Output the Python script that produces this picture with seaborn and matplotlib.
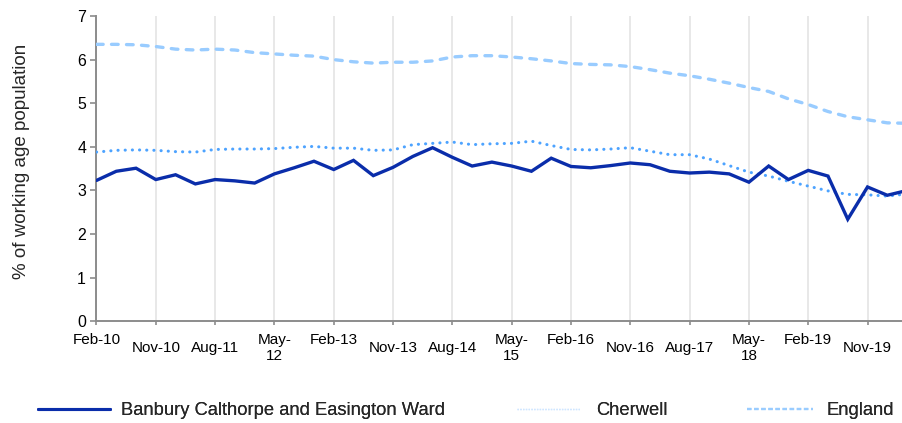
import numpy as np
import pandas as pd
import seaborn as sns
import matplotlib
matplotlib.use("Agg")
import matplotlib.pyplot as plt
import matplotlib.transforms as mtransforms
from matplotlib.lines import Line2D

# ---- data (quarterly, Feb-10 .. May-20) ----
years = list(range(2010, 2021))
months = ["Feb", "May", "Aug", "Nov"]
periods = [f"{m}-{str(y)[2:]}" for y in years for m in months][:42]

banbury = [3.23, 3.44, 3.51, 3.25, 3.36, 3.15, 3.25, 3.22, 3.17, 3.38,
           3.52, 3.67, 3.48, 3.69, 3.34, 3.53, 3.78, 3.98, 3.76, 3.56,
           3.65, 3.56, 3.44, 3.74, 3.55, 3.52, 3.57, 3.63, 3.59, 3.44,
           3.40, 3.42, 3.38, 3.19, 3.56, 3.25, 3.46, 3.33, 2.34, 3.08,
           2.89, 3.00]
cherwell = [3.88, 3.92, 3.93, 3.92, 3.89, 3.88, 3.94, 3.95, 3.95, 3.96,
            3.99, 4.01, 3.97, 3.97, 3.92, 3.93, 4.05, 4.08, 4.11, 4.05,
            4.07, 4.08, 4.13, 4.03, 3.94, 3.93, 3.95, 3.98, 3.90, 3.82,
            3.82, 3.72, 3.57, 3.42, 3.33, 3.21, 3.10, 2.99, 2.91, 2.90,
            2.87, 2.92]
england = [6.35, 6.35, 6.34, 6.30, 6.24, 6.22, 6.24, 6.22, 6.16, 6.13,
           6.10, 6.08, 6.00, 5.95, 5.92, 5.94, 5.94, 5.97, 6.06, 6.09,
           6.09, 6.06, 6.02, 5.97, 5.91, 5.89, 5.88, 5.84, 5.77, 5.69,
           5.63, 5.55, 5.46, 5.36, 5.27, 5.10, 4.97, 4.81, 4.69, 4.62,
           4.55, 4.54]

tick_labels = ["Feb-10", "Nov-10", "Aug-11", "May-\n12", "Feb-13", "Nov-13",
               "Aug-14", "May-\n15", "Feb-16", "Nov-16", "Aug-17", "May-\n18",
               "Feb-19", "Nov-19"]
series_names = ["Banbury Calthorpe and Easington Ward", "Cherwell", "England"]

c_ban = "#0A2DAA"
c_che = "#4DA3FF"
c_eng = "#99CCFF"

sns.set_style("white")
plt.rcParams["font.family"] = ["Liberation Sans", "DejaVu Sans"]

W, H = 903, 423
fig = plt.figure(figsize=(W / 100, H / 100), dpi=100)
left_px, right_px, top_px, bot_px = 96.5, 903, 16, 321.3
ax = fig.add_axes([left_px / W, 1 - bot_px / H,
                   (right_px - left_px) / W, (bot_px - top_px) / H])

df = pd.DataFrame({"idx": np.arange(len(periods)), "period": periods,
                   "ban": banbury, "che": cherwell, "eng": england})

sns.lineplot(data=df, x="idx", y="eng", ax=ax, color=c_eng, lw=2.4,
             linestyle=(0, (2.0, 2.5)), dash_capstyle="round", zorder=3)
sns.lineplot(data=df, x="idx", y="che", ax=ax, color=c_che, lw=2.2,
             linestyle=(0, (0.05, 2.3)), dash_capstyle="round", zorder=4)
sns.lineplot(data=df, x="idx", y="ban", ax=ax, color=c_ban, lw=2.4,
             solid_joinstyle="miter", zorder=5)

ax.set_xlim(0, (right_px - left_px) / 19.77)
ax.set_ylim(0, 7)
ax.set_yticks(range(0, 8))
ax.set_xticks(np.arange(0, 42, 3))
ax.set_xticklabels(tick_labels)
ax.set_xlabel("")
ax.set_ylabel("")

for s in ["top", "right"]:
    ax.spines[s].set_visible(False)
for s in ["left", "bottom"]:
    ax.spines[s].set_color("#8C8C8C")
    ax.spines[s].set_linewidth(1.4)

ax.tick_params(axis="y", which="major", length=4.3, width=1.2, color="#8C8C8C",
               direction="out", pad=3.2, labelsize=11.4, labelcolor="black", left=True)
ax.tick_params(axis="x", which="major", length=3, width=1.2, color="#8C8C8C",
               direction="out", pad=5.5, labelsize=11, labelcolor="black", bottom=True)

ax.grid(axis="x", color="#E4E4E4", lw=1.2)
ax.grid(axis="y", visible=False)
ax.set_axisbelow(True)

# Excel-like staggering of category labels
shift = mtransforms.ScaledTranslation(0, -8 / 100, fig.dpi_scale_trans)
for lab in ax.get_xticklabels():
    lab.set_verticalalignment("top")
    txt = lab.get_text()
    if txt.startswith("Nov") or txt.startswith("Aug"):
        lab.set_transform(lab.get_transform() + shift)

fig.text(21.5 / W, 1 - 161 / H, "% of working age population", rotation=90,
         ha="center", va="center", fontsize=13.5)

# legend: three entries placed like the reference
fs = 13.2
em = fs * 100 / 72
handles = [
    Line2D([], [], color=c_ban, lw=2.2),
    Line2D([], [], color="#CFE6FF", lw=1.0, linestyle=(0, (1, 1))),
    Line2D([], [], color=c_eng, lw=1.6, linestyle=(0, (2, 1.2))),
]
# (handle start px, handle length px, handle-text gap px)
leg_geom = [(38, 72, 11), (517, 63, 16), (747, 66, 14)]
for h, name, (x0, hl, gap) in zip(handles, series_names, leg_geom):
    leg = fig.legend([h], [name], loc="center left",
                     bbox_to_anchor=(x0 / W, 1 - 410.5 / H), frameon=False,
                     fontsize=fs, handlelength=hl / em, handletextpad=gap / em,
                     borderpad=0, borderaxespad=0)
    fig.add_artist(leg)

fig.savefig("out.png", dpi=100)
